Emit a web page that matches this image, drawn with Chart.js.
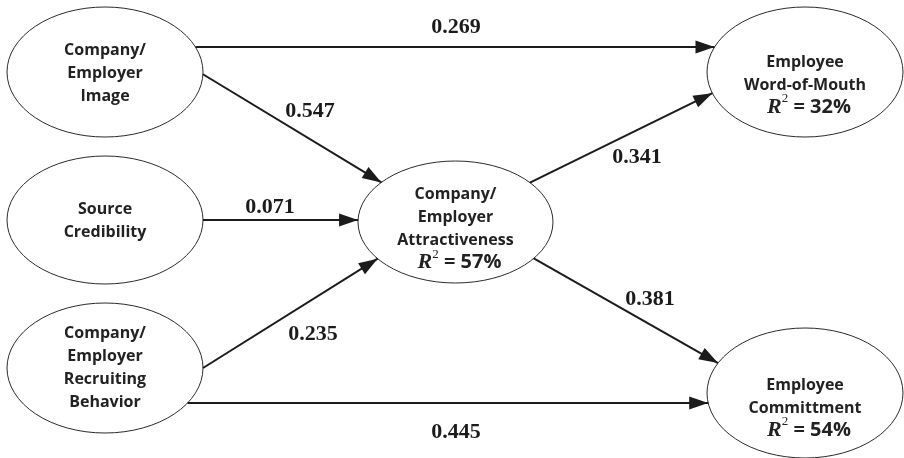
<!DOCTYPE html>
<html>
<head>
<meta charset="utf-8">
<script src="https://cdn.jsdelivr.net/npm/chart.js@4.4.1/dist/chart.umd.min.js"></script>
<style>
  html, body { margin: 0; padding: 0; background: #fff; }
  #wrap { width: 904px; height: 458px; }
</style>
</head>
<body>
<div id="wrap"><canvas id="chart" width="904" height="458"></canvas></div>
<script>
// constructs and their explained variance
const nodeNames = [
    "Company/\nEmployer\nImage",
    "Source\nCredibility",
    "Company/\nEmployer\nRecruiting\nBehavior",
    "Company/\nEmployer\nAttractiveness",
    "Employee\nWord-of-Mouth",
    "Employee\nCommittment",
];
const rSquared = [null, null, null, 57, 32, 54];

// structural paths
const pathFrom = [0, 0, 1, 2, 2, 3, 3];
const pathTo = [4, 3, 3, 3, 5, 4, 5];
const pathCoef = ["0.269", "0.547", "0.071", "0.235", "0.445", "0.341", "0.381"];

// layout, in diagram units
const nodeX = [105, 105, 105, 455.5, 805, 805];
const nodeY = [72, 220, 368, 222, 72, 393];
const nodeRx = [98, 98, 98, 97.5, 98, 98];
const nodeRy = [65, 64, 65, 61, 65, 65];
const textShift = [1, 1, 0, 7, 13, 15];
const startAngle = [-22.6, 2, 0, 0, 32.6, -40.2, 36.6];
const endAngle = [202.6, 220.5, 181.9, 143, 171.1, 161, 207.4];
const labelX = [456, 310, 270, 313, 456, 637, 650];
const labelY = [26, 110, 206, 333, 431, 156, 298];

const SANS = '"Open Sans", "DejaVu Sans", sans-serif';
const SERIF = '"Liberation Serif", "DejaVu Serif", serif';
const INK = "#1b1b1b";

const rim = (i, deg) => {
    const a = (deg * Math.PI) / 180;
    return { x: nodeX[i] + nodeRx[i] * Math.cos(a), y: nodeY[i] + nodeRy[i] * Math.sin(a) };
};

const pathDatasets = pathCoef.map((coef, k) => ({
    type: "line",
    label: coef,
    data: [rim(pathFrom[k], startAngle[k]), rim(pathTo[k], endAngle[k])],
    borderColor: INK,
    borderWidth: 2,
    pointRadius: 0,
    showLine: true,
    fill: false,
}));

const nodeDataset = {
    type: "scatter",
    label: "constructs",
    data: nodeNames.map((_, i) => ({ x: nodeX[i], y: nodeY[i] })),
    pointRadius: 0,
};

const diagramPlugin = {
    id: "pathDiagram",
    beforeDatasetsDraw(chart) {
        const { ctx, scales: { x, y } } = chart;
        ctx.save();
        ctx.strokeStyle = "#2a2a2a";
        ctx.lineWidth = 1;
        nodeNames.forEach((_, i) => {
            const cx = x.getPixelForValue(nodeX[i]);
            const cy = y.getPixelForValue(nodeY[i]);
            const rx = x.getPixelForValue(nodeX[i] + nodeRx[i]) - cx;
            const ry = y.getPixelForValue(nodeY[i] + nodeRy[i]) - cy;
            ctx.beginPath();
            ctx.ellipse(cx, cy, Math.abs(rx), Math.abs(ry), 0, 0, Math.PI * 2);
            ctx.stroke();
        });
        ctx.restore();
    },
    afterDatasetsDraw(chart) {
        const { ctx, scales: { x, y } } = chart;
        ctx.save();
        ctx.fillStyle = INK;

        // arrowheads
        pathDatasets.forEach((ds) => {
            const [p0, p1] = ds.data;
            const x0 = x.getPixelForValue(p0.x), y0 = y.getPixelForValue(p0.y);
            const x1 = x.getPixelForValue(p1.x), y1 = y.getPixelForValue(p1.y);
            const a = Math.atan2(y1 - y0, x1 - x0);
            const len = 19, half = 6.5;
            ctx.beginPath();
            ctx.moveTo(x1, y1);
            ctx.lineTo(x1 - len * Math.cos(a) + half * Math.sin(a), y1 - len * Math.sin(a) - half * Math.cos(a));
            ctx.lineTo(x1 - len * Math.cos(a) - half * Math.sin(a), y1 - len * Math.sin(a) + half * Math.cos(a));
            ctx.closePath();
            ctx.fill();
        });

        // path coefficients
        ctx.font = "bold 22px " + SERIF;
        ctx.textAlign = "center";
        ctx.textBaseline = "middle";
        pathCoef.forEach((coef, k) => {
            ctx.fillText(coef, x.getPixelForValue(labelX[k]), y.getPixelForValue(labelY[k]) + 1);
        });

        // construct names and R²
        ctx.fillStyle = "#222";
        nodeNames.forEach((name, i) => {
            const lines = name.split("\n");
            const hasR = rSquared[i] !== null;
            const rows = lines.length + (hasR ? 1 : 0);
            const lh = 23;
            const cx = x.getPixelForValue(nodeX[i]);
            const top = y.getPixelForValue(nodeY[i]) + textShift[i] - ((rows - 1) * lh) / 2;
            ctx.font = "bold 16px " + SANS;
            ctx.textAlign = "center";
            lines.forEach((ln, r) => ctx.fillText(ln, cx, top + r * lh));
            if (hasR) {
                const ry = top + lines.length * lh - 1;
                const rest = " = " + rSquared[i] + "%";
                ctx.font = "italic bold 22px " + SERIF;
                const wR = ctx.measureText("R").width;
                ctx.font = "13px " + SERIF;
                const w2 = ctx.measureText("2").width;
                ctx.font = "bold 20px " + SANS;
                const wRest = ctx.measureText(rest).width;
                let sx = cx - (wR + w2 + wRest) / 2 + 4;
                ctx.textAlign = "left";
                ctx.font = "italic bold 22px " + SERIF;
                ctx.fillText("R", sx, ry);
                sx += wR;
                ctx.font = "13px " + SERIF;
                ctx.fillText("2", sx, ry - 8);
                sx += w2;
                ctx.font = "bold 20px " + SANS;
                ctx.fillText(rest, sx, ry);
            }
        });
        ctx.restore();
    },
};

new Chart(document.getElementById("chart"), {
    type: "scatter",
    data: { datasets: [nodeDataset, ...pathDatasets] },
    options: {
        responsive: false,
        animation: false,
        layout: { padding: 0 },
        scales: {
            x: { type: "linear", min: 0, max: 904, display: false },
            y: { type: "linear", min: 0, max: 458, reverse: true, display: false },
        },
        plugins: {
            legend: { display: false },
            tooltip: { enabled: false },
        },
    },
    plugins: [diagramPlugin],
});
</script>
</body>
</html>
